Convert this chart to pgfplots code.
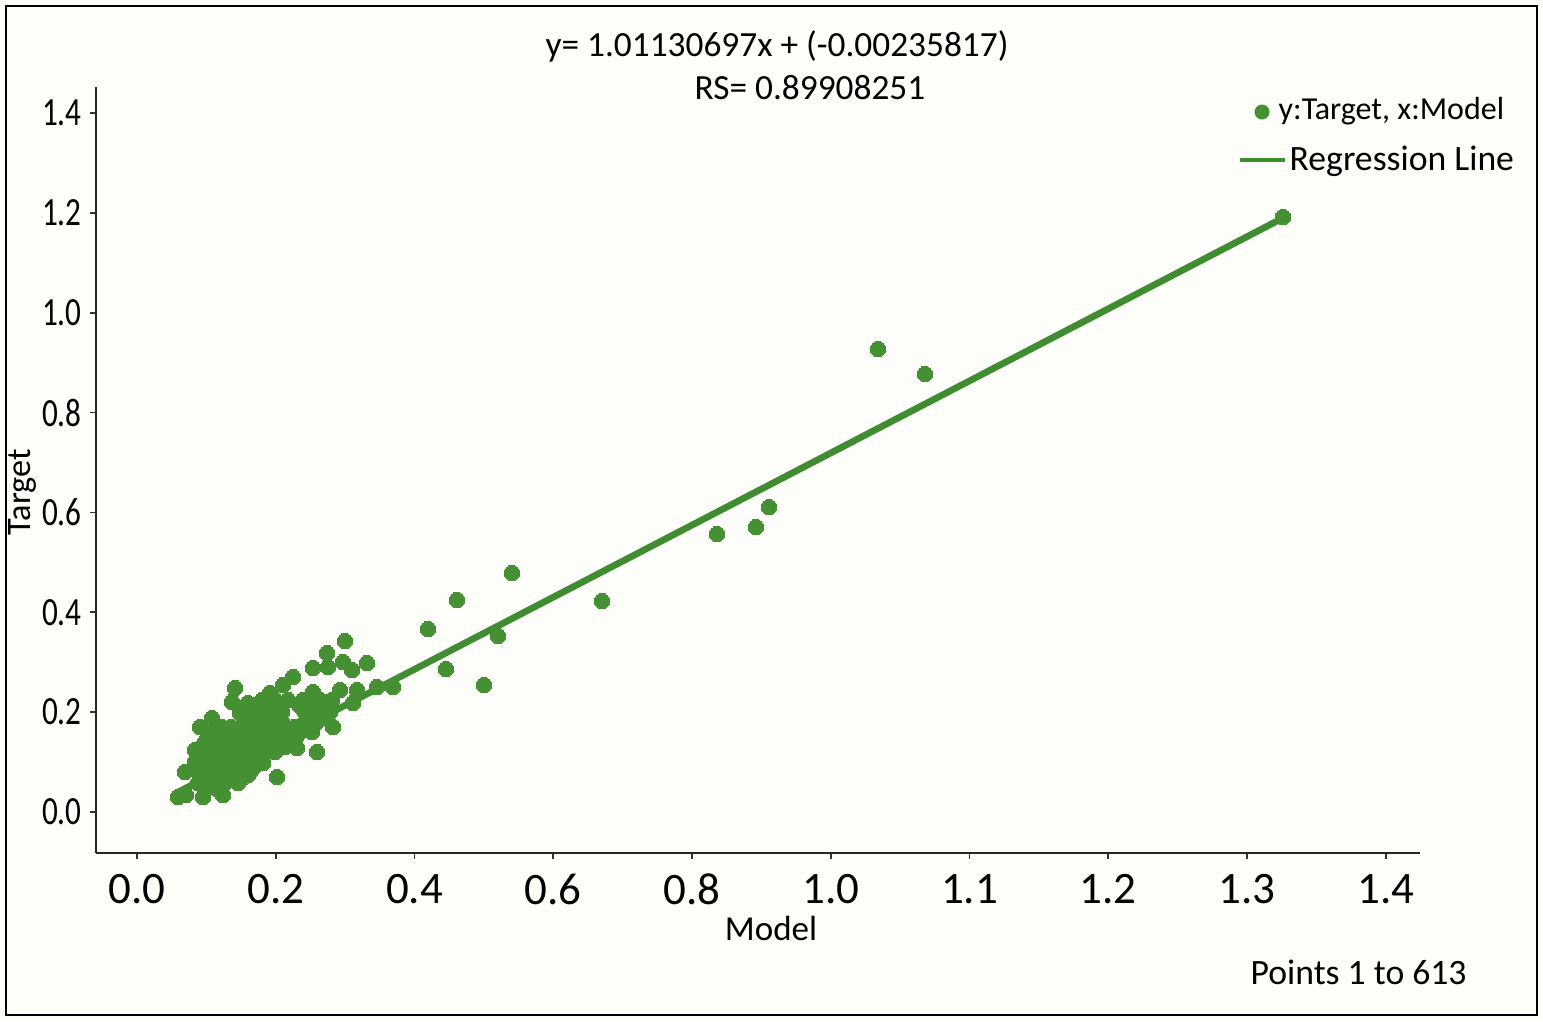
\documentclass[border=0pt]{standalone}
\usepackage{fontspec}
\setmainfont{Carlito}
\usepackage{graphicx}
\usepackage{pgfplots}
\pgfplotsset{compat=1.18}
\definecolor{bgc}{RGB}{253,253,249}
\definecolor{ptc}{RGB}{68,144,50}
\definecolor{linec}{RGB}{64,140,48}
\begin{document}
\begin{tikzpicture}
\useasboundingbox (-28.8pt,-50.4pt) rectangle (434.1pt,255.9pt);
\fill[bgc] (-28.8pt,-50.4pt) rectangle (434.1pt,255.9pt);
\draw[black,line width=0.6pt] (-27pt,-48.6pt) rectangle (432.3pt,254.1pt);
\begin{axis}[
  at={(0pt,0pt)}, anchor=south west,
  scale only axis, width=397.2pt, height=229.8pt,
  xmin=-0.0591, xmax=1.8494, ymin=-0.0821, ymax=1.452,
  axis x line*=bottom, axis y line*=left,
  axis line style={-, line width=0.6pt, black!85},
  tick align=outside, major tick length=1.8pt,
  tick style={line width=0.5pt, black!80},
  xtick={0,0.2,0.4,0.6,0.8,1.0,1.2,1.4,1.6,1.8},
  xticklabels={0.0,0.2,0.4,0.6,0.8,1.0,1.1,1.2,1.3,1.4},
  ytick={0,0.2,0.4,0.6,0.8,1.0,1.2,1.4},
  yticklabels={0.0,0.2,0.4,0.6,0.8,1.0,1.2,1.4},
  xticklabel style={font=\fontsize{13.5}{14}\selectfont, yshift=-1pt},
  yticklabel={\scalebox{0.78}[1]{\fontsize{12}{13}\selectfont\pgfmathprintnumber[fixed,fixed zerofill,precision=1,assume math mode=true]{\tick}}},
  yticklabel style={xshift=1pt},
  clip=false,
]
\addplot[only marks, mark=*, mark size=2.3pt, mark options={fill=ptc, draw=ptc, line width=0pt}] coordinates {
(1.6519,1.1917) (1.0681,0.9273) (1.1358,0.8772) (0.9110,0.6109) (0.8922,0.5708) (0.8360,0.5568)
(0.6703,0.4226) (0.5405,0.4787) (0.4612,0.4246) (0.4194,0.3665) (0.5203,0.3525) (0.4454,0.2864) (0.5002,0.2544)
(0.0591,0.0300) (0.0706,0.0340) (0.0951,0.0300) (0.1240,0.0340) (0.0692,0.0801) (0.0836,0.1242)
(0.0908,0.1702) (0.1225,0.1702) (0.1485,0.1983) (0.1369,0.2203) (0.1600,0.2183) (0.1413,0.2483)
(0.2018,0.0701) (0.1600,0.0741) (0.1095,0.0501) (0.1816,0.0981) (0.1917,0.1302) (0.2104,0.1502)
(0.2306,0.1282) (0.2595,0.1202) (0.2825,0.1702) (0.3113,0.2183) (0.2998,0.3425) (0.2739,0.3184)
(0.2537,0.2884) (0.2753,0.2904) (0.2969,0.3004) (0.3099,0.2844) (0.3315,0.2984) (0.2249,0.2704)
(0.3171,0.2443) (0.3459,0.2504) (0.3690,0.2504) (0.2926,0.2443) (0.2537,0.2403) (0.2104,0.2544)
(0.2393,0.2243) (0.1917,0.2383) (0.1081,0.1883)
(0.1802,0.2243) (0.1989,0.2243) (0.2177,0.2243) (0.2638,0.2243) (0.2811,0.2243)
(0.1744,0.2003) (0.1917,0.2003) (0.2090,0.2003) (0.2422,0.2003) (0.2609,0.2003) (0.2782,0.2003)
(0.1557,0.1803) (0.1730,0.1803) (0.1917,0.1803) (0.2090,0.1803) (0.2422,0.1803) (0.2595,0.1803)
(0.1081,0.1602) (0.1268,0.1602) (0.1456,0.1602) (0.1629,0.1602) (0.1802,0.1602) (0.1989,0.1602) (0.2177,0.1602) (0.2349,0.1602) (0.2522,0.1602)
(0.0980,0.1402) (0.1168,0.1402) (0.1341,0.1402) (0.1528,0.1402) (0.1701,0.1402) (0.1888,0.1402) (0.2061,0.1402) (0.2234,0.1402)
(0.0908,0.1202) (0.1081,0.1202) (0.1268,0.1202) (0.1456,0.1202) (0.1629,0.1202) (0.1802,0.1202) (0.1989,0.1202)
(0.0836,0.1001) (0.1009,0.1001) (0.1196,0.1001) (0.1369,0.1001) (0.1557,0.1001) (0.1730,0.1001)
(0.0879,0.0801) (0.1052,0.0801) (0.1225,0.0801) (0.1413,0.0801) (0.1629,0.0801)
(0.0879,0.0581) (0.1052,0.0581) (0.1268,0.0581) (0.1456,0.0581)
(0.1888,0.2123) (0.2076,0.2123) (0.2349,0.2123) (0.2537,0.2123) (0.2724,0.2123)
(0.1629,0.1903) (0.1816,0.1903) (0.2004,0.1903) (0.2508,0.1903) (0.2681,0.1903)
(0.1168,0.1702) (0.1355,0.1702) (0.1542,0.1702) (0.1715,0.1702) (0.1903,0.1702) (0.2090,0.1702) (0.2277,0.1702) (0.2465,0.1702)
(0.1023,0.1502) (0.1211,0.1502) (0.1398,0.1502) (0.1586,0.1502) (0.1773,0.1502) (0.1960,0.1502) (0.2292,0.1502)
(0.0937,0.1302) (0.1124,0.1302) (0.1312,0.1302) (0.1499,0.1302) (0.1686,0.1302) (0.1874,0.1302) (0.2133,0.1302)
(0.0879,0.1102) (0.1052,0.1102) (0.1240,0.1102) (0.1427,0.1102) (0.1614,0.1102) (0.1802,0.1102)
(0.0908,0.0901) (0.1095,0.0901) (0.1283,0.0901) (0.1485,0.0901) (0.1686,0.0901)
(0.0980,0.0701) (0.1168,0.0701) (0.1355,0.0701) (0.1542,0.0701)
(0.0980,0.0461) (0.1153,0.0461)
};
\addplot[linec, line width=2pt] coordinates {(0.0591,0.0397) (1.6519,1.1897)};
\end{axis}
\node[font=\fontsize{10.6}{12}\selectfont] at (204.3pt,242.1pt) {y= 1.01130697x + (-0.00235817)};
\node[font=\fontsize{10.6}{12}\selectfont] at (214.2pt,229.5pt) {RS= 0.89908251};
\fill[ptc] (349.8pt,222.3pt) circle (2.25pt);
\node[font=\fontsize{9.6}{11}\selectfont, anchor=west, inner sep=0pt] at (354.6pt,222.6pt) {y:Target, x:Model};
\draw[linec, line width=1.3pt] (343.2pt,208pt) -- (356.7pt,208pt);
\node[font=\fontsize{10.7}{12}\selectfont, anchor=west, inner sep=0pt] at (357.9pt,207.6pt) {Regression Line};
\node[font=\fontsize{10.7}{12}\selectfont, anchor=west, inner sep=0pt] at (346.2pt,-35.7pt) {Points 1 to 613};
\node[font=\fontsize{10.5}{12}\selectfont] at (202.5pt,-22.5pt) {Model};
\node[font=\fontsize{10.3}{12}\selectfont, rotate=90] at (-22.2pt,108.3pt) {Target};
\end{tikzpicture}
\end{document}
